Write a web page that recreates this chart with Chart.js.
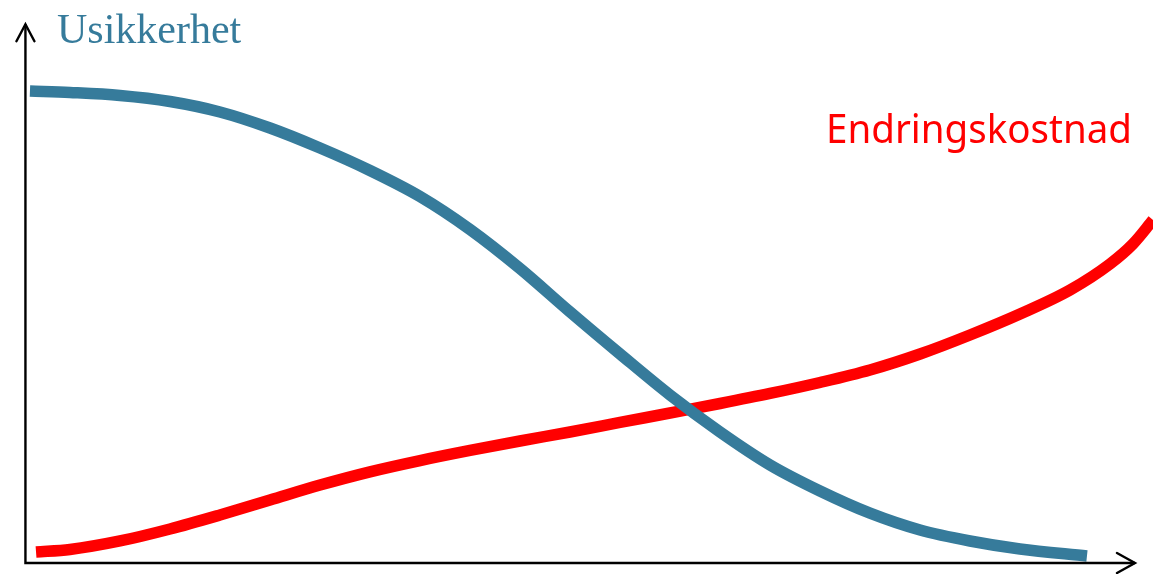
<!DOCTYPE html>
<html>
<head>
<meta charset="utf-8">
<script src="https://cdn.jsdelivr.net/npm/chart.js@4.4.1/dist/chart.umd.min.js"></script>
<style>
  html, body { margin: 0; padding: 0; background: #ffffff; }
  #wrap { width: 1153px; height: 574px; position: relative; }
</style>
</head>
<body>
<div id="wrap"><canvas id="c"></canvas></div>
<script>
// Series labels
const seriesLabels = ["Usikkerhet", "Endringskostnad"];

// Uncertainty curve (x: time 0-100, y: level 0-100)
const usikkerhetX = [0.35, 3.9, 8.34, 12.78, 17.21, 21.65, 26.09, 30.52, 34.96, 39.4, 43.83, 48.27, 52.71, 57.14, 61.58, 66.02, 70.45, 74.89, 79.33, 83.76, 88.2, 94.14];
const usikkerhetY = [83.84, 83.57, 83.04, 81.97, 80.11, 77.26, 73.71, 69.72, 65.1, 59.24, 52.31, 44.6, 37.12, 29.84, 23.27, 17.41, 12.79, 8.85, 5.86, 3.91, 2.49, 1.24];

// Cost-of-change curve
const kostnadX = [0.89, 3.9, 8.34, 12.78, 17.21, 21.65, 26.09, 30.52, 34.96, 39.4, 43.83, 48.27, 52.71, 57.14, 61.58, 66.02, 70.45, 74.89, 79.33, 83.76, 88.2, 92.64, 96.18, 98.22, 100];
const kostnadY = [1.95, 2.4, 3.91, 6.04, 8.53, 11.19, 13.85, 16.2, 18.2, 20.0, 21.67, 23.27, 24.96, 26.64, 28.33, 30.11, 32.06, 34.28, 37.12, 40.5, 44.23, 48.49, 53.11, 56.66, 60.92];

const toPts = (xs, ys) => xs.map((x, i) => ({ x: x, y: ys[i] }));

const arrowAxes = {
  id: 'arrowAxes',
  afterDatasetsDraw(chart) {
    const ctx = chart.ctx;
    const xs = chart.scales.x, ys = chart.scales.y;
    const x0 = xs.getPixelForValue(-0.05);
    const y0 = ys.getPixelForValue(0);
    const yTip = ys.getPixelForValue(95.7);
    const xTip = xs.getPixelForValue(98.4);
    ctx.save();
    ctx.strokeStyle = '#000000';
    ctx.lineWidth = 2.4;
    ctx.lineCap = 'butt';
    ctx.lineJoin = 'miter';
    ctx.beginPath();
    ctx.moveTo(x0, yTip);
    ctx.lineTo(x0, y0);
    ctx.lineTo(xTip, y0);
    ctx.stroke();
    ctx.lineCap = 'round';
    ctx.beginPath();
    ctx.moveTo(x0 - 9, yTip + 17);
    ctx.lineTo(x0, yTip);
    ctx.lineTo(x0 + 9, yTip + 17);
    ctx.moveTo(xTip - 18, y0 - 10);
    ctx.lineTo(xTip, y0);
    ctx.lineTo(xTip - 18, y0 + 10);
    ctx.stroke();

    ctx.textBaseline = 'alphabetic';
    ctx.textAlign = 'left';
    ctx.fillStyle = '#367B9B';
    ctx.font = '42px "Liberation Serif", "Times New Roman", serif';
    ctx.fillText(seriesLabels[0], 57, 43);

    ctx.fillStyle = '#FF0000';
    ctx.font = '40px "Noto Sans", "Open Sans", sans-serif';
    const w = ctx.measureText(seriesLabels[1]).width;
    const target = 306;
    ctx.save();
    ctx.translate(826, 143);
    ctx.scale(target / w, 1);
    ctx.fillText(seriesLabels[1], 0, 0);
    ctx.restore();
    ctx.restore();
  }
};

new Chart(document.getElementById('c'), {
  type: 'line',
  data: {
    datasets: [
      {
        label: seriesLabels[0],
        data: toPts(usikkerhetX, usikkerhetY),
        borderColor: '#367B9B',
        borderWidth: 11.5,
        borderCapStyle: 'butt',
        pointRadius: 0,
        cubicInterpolationMode: 'monotone',
        fill: false
      },
      {
        label: seriesLabels[1],
        data: toPts(kostnadX, kostnadY),
        borderColor: '#FF0000',
        borderWidth: 11.5,
        borderCapStyle: 'butt',
        pointRadius: 0,
        cubicInterpolationMode: 'monotone',
        fill: false
      }
    ]
  },
  options: {
    responsive: true,
    maintainAspectRatio: false,
    animation: false,
    layout: { padding: { left: 26, right: 0, top: 0, bottom: 11 } },
    plugins: { legend: { display: false }, tooltip: { enabled: false }, title: { display: false } },
    scales: {
      x: { type: 'linear', min: 0, max: 100, display: false },
      y: { type: 'linear', min: 0, max: 100, display: false }
    }
  },
  plugins: [arrowAxes]
});
</script>
</body>
</html>
